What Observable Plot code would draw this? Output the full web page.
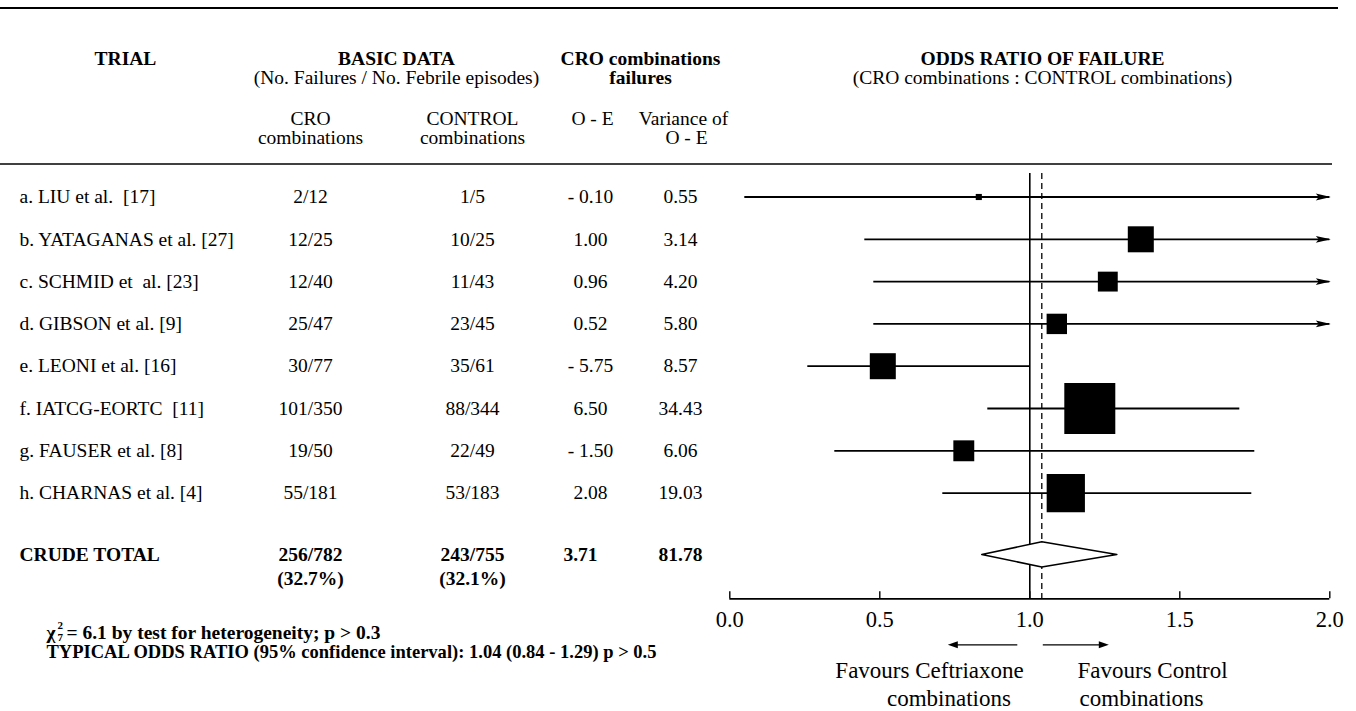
<!DOCTYPE html>
<html>
<head>
<meta charset="utf-8">
<script src="https://cdn.jsdelivr.net/npm/d3@7"></script>
<script src="https://cdn.jsdelivr.net/npm/@observablehq/plot@0.6"></script>
<style>
  html, body { margin: 0; padding: 0; background: #fff; }
  #chart svg { display: block; }
  #chart svg text { white-space: pre; }
</style>
</head>
<body>
<div id="chart"></div>
<script>
// ---------------- data ----------------
const trials = [
  "a. LIU et al.  [17]",
  "b. YATAGANAS et al. [27]",
  "c. SCHMID et  al. [23]",
  "d. GIBSON et al. [9]",
  "e. LEONI et al. [16]",
  "f. IATCG-EORTC  [11]",
  "g. FAUSER et al. [8]",
  "h. CHARNAS et al. [4]"
];
const croFailures = ["2/12", "12/25", "12/40", "25/47", "30/77", "101/350", "19/50", "55/181"];
const controlFailures = ["1/5", "10/25", "11/43", "23/45", "35/61", "88/344", "22/49", "53/183"];
const oMinusE = ["- 0.10", "1.00", "0.96", "0.52", "- 5.75", "6.50", "- 1.50", "2.08"];
const varianceOE = ["0.55", "3.14", "4.20", "5.80", "8.57", "34.43", "6.06", "19.03"];

const oddsRatio = [0.83, 1.37, 1.26, 1.09, 0.51, 1.20, 0.78, 1.12];
const ciLow = [0.05, 0.45, 0.48, 0.48, 0.26, 0.86, 0.35, 0.71];
const ciHigh = [2.0, 2.0, 2.0, 2.0, 1.0, 1.70, 1.75, 1.74];
const ciBeyondAxis = [true, true, true, true, false, false, false, false];
const boxWeight = [12, 51, 39, 40, 51, 100, 41, 75]; // relative box size, % of largest

const totalLabel = "CRUDE TOTAL";
const totalCro = "256/782\n(32.7%)";
const totalControl = "243/755\n(32.1%)";
const totalOE = "3.71";
const totalVariance = "81.78";
const typicalOR = 1.04, typicalLow = 0.84, typicalHigh = 1.29;

const xTicks = [0.0, 0.5, 1.0, 1.5, 2.0];

const headerMain = ["TRIAL", "BASIC DATA", "CRO combinations", "ODDS RATIO OF FAILURE"];
const headerSub = ["(No. Failures / No. Febrile episodes)", "failures", "(CRO combinations : CONTROL combinations)"];
const colHeads = [["CRO", "combinations"], ["CONTROL", "combinations"], ["O - E", ""], ["Variance of", "O - E"]];
const chiNote = "= 6.1 by test for heterogeneity; p > 0.3";
const typicalNote = "TYPICAL ODDS RATIO (95% confidence interval): 1.04 (0.84 - 1.29) p > 0.5";
const favours = ["Favours Ceftriaxone", "combinations", "Favours Control", "combinations"];

// ---------------- layout ----------------
const W = 1356, H = 711;
const row0 = 196.5, rowStep = 42.3;          // pixel of row a, row spacing
const py = p => (p - row0) / rowStep;         // pixel -> row units
const idx = trials.map((_, i) => i);
const totalRow = 8.45;
const axisRow = 9.5;
const serif = "'Liberation Serif', 'Times New Roman', Times, serif";
const fs = 19.5;

const colX = {trial: 19, cro: 310, control: 472, oe: 590, variance: 680};

const arrowHead = {
  draw(ctx) {
    ctx.moveTo(1, 0);
    ctx.lineTo(-14, -3.4);
    ctx.lineTo(-11, 0);
    ctx.lineTo(-14, 3.4);
    ctx.closePath();
  }
};
const smallHead = {
  draw(ctx) {
    ctx.moveTo(1, 0);
    ctx.lineTo(-9, -3.5);
    ctx.lineTo(-9, 3.5);
    ctx.closePath();
  }
};

const T = (data, o) => Plot.text(data, {fontFamily: serif, fontSize: fs, fill: "black", ...o});
const head = (str, cx, cy, o = {}) => T([str], {frameAnchor: "top-left", dx: cx, dy: cy, textAnchor: "middle", lineAnchor: "middle", ...o});

const diamondH = 12.6 / rowStep;
const diamond = [
  {x: typicalLow, y: totalRow},
  {x: typicalOR, y: totalRow - diamondH},
  {x: typicalHigh, y: totalRow},
  {x: typicalOR, y: totalRow + diamondH}
];

const plot = Plot.plot({
  width: W,
  height: H,
  margin: 0,
  style: {fontFamily: serif, background: "white", overflow: "visible"},
  x: {domain: [0, 2], range: [729.3, 1329.3], axis: null},
  y: {domain: [py(0), py(H)], range: [0, H], axis: null},
  r: {type: "linear", domain: [0, 100], range: [0, 51 / Math.sqrt(Math.PI)]},
  marks: [
    // rules
    Plot.ruleY([py(7.5)], {stroke: "black", strokeWidth: 2.2, insetRight: 18}),
    Plot.ruleY([py(163.5)], {stroke: "black", strokeWidth: 1.4, insetRight: 24}),

    // headers
    head(headerMain[0], 125, 58, {fontWeight: "bold"}),
    head(headerMain[1], 396, 58, {fontWeight: "bold"}),
    head(headerSub[0], 396, 77),
    head(headerMain[2], 640, 58, {fontWeight: "bold"}),
    head(headerSub[1], 640, 77, {fontWeight: "bold"}),
    head(headerMain[3], 1042, 58, {fontWeight: "bold"}),
    head(headerSub[2], 1042, 77),
    head(colHeads[0][0], colX.cro, 118), head(colHeads[0][1], colX.cro, 137),
    head(colHeads[1][0], colX.control, 118), head(colHeads[1][1], colX.control, 137),
    head(colHeads[2][0], colX.oe + 2, 118),
    head(colHeads[3][0], colX.variance + 3, 118), head(colHeads[3][1], colX.variance + 6, 137),

    // table rows
    T(idx, {y: i => i, text: i => trials[i], frameAnchor: "left", dx: colX.trial, textAnchor: "start"}),
    T(idx, {y: i => i, text: i => croFailures[i], frameAnchor: "left", dx: colX.cro, textAnchor: "middle"}),
    T(idx, {y: i => i, text: i => controlFailures[i], frameAnchor: "left", dx: colX.control, textAnchor: "middle"}),
    T(idx, {y: i => i, text: i => oMinusE[i], frameAnchor: "left", dx: colX.oe, textAnchor: "middle"}),
    T(idx, {y: i => i, text: i => varianceOE[i], frameAnchor: "left", dx: colX.variance, textAnchor: "middle"}),

    // total row (first line level with the diamond)
    T([totalLabel], {y: totalRow, frameAnchor: "left", dx: colX.trial, textAnchor: "start", fontWeight: "bold"}),
    T([totalCro], {y: totalRow, frameAnchor: "left", dx: colX.cro, textAnchor: "middle", lineAnchor: "top", dy: -11, fontWeight: "bold", lineHeight: 1.25}),
    T([totalControl], {y: totalRow, frameAnchor: "left", dx: colX.control, textAnchor: "middle", lineAnchor: "top", dy: -11, fontWeight: "bold", lineHeight: 1.25}),
    T([totalOE], {y: totalRow, frameAnchor: "left", dx: colX.oe - 10, textAnchor: "middle", fontWeight: "bold"}),
    T([totalVariance], {y: totalRow, frameAnchor: "left", dx: colX.variance, textAnchor: "middle", fontWeight: "bold"}),

    // reference lines
    Plot.ruleX([1], {y1: py(173), y2: axisRow, stroke: "black", strokeWidth: 1.6}),
    Plot.ruleX([typicalOR], {y1: py(173), y2: axisRow, stroke: "black", strokeWidth: 1.3, strokeDasharray: "6,4"}),

    // confidence intervals
    Plot.ruleY(idx, {y: i => i, x1: i => ciLow[i], x2: i => ciHigh[i], stroke: "black", strokeWidth: 1.8}),
    Plot.dot(idx.filter(i => ciBeyondAxis[i]), {x: i => ciHigh[i], y: i => i, symbol: arrowHead, fill: "black", stroke: "none", r: 5}),

    // boxes
    Plot.dot(idx, {x: i => oddsRatio[i], y: i => i, r: i => boxWeight[i], symbol: "square", fill: "black", stroke: "none"}),

    // typical odds ratio diamond
    Plot.line(diamond, {x: "x", y: "y", curve: "linear-closed", stroke: "black", strokeWidth: 1.6, fill: "white"}),

    // axis
    Plot.ruleY([axisRow], {x1: xTicks[0], x2: xTicks[xTicks.length - 1], stroke: "black", strokeWidth: 1.6}),
    Plot.ruleX(xTicks, {y1: axisRow, y2: axisRow - 7 / rowStep, stroke: "black", strokeWidth: 1.4}),
    T(xTicks, {x: d => d, y: axisRow, dy: 21, text: d => d.toFixed(1), fontSize: 22.5, textAnchor: "middle"}),

    // direction arrows and labels
    Plot.ruleY([axisRow], {x1: 0.96, x2: 0.74, dy: 46, stroke: "black", strokeWidth: 1.3}),
    Plot.dot([0.73], {x: d => d, y: axisRow, dy: 46, symbol: smallHead, rotate: 180, fill: "black", stroke: "none", r: 4}),
    Plot.ruleY([axisRow], {x1: 1.045, x2: 1.25, dy: 46, stroke: "black", strokeWidth: 1.3}),
    Plot.dot([1.26], {x: d => d, y: axisRow, dy: 46, symbol: smallHead, fill: "black", stroke: "none", r: 4}),
    T([favours[0]], {x: 0.98, y: axisRow, dy: 72, textAnchor: "end", fontSize: 23}),
    T([favours[1]], {x: 0.937, y: axisRow, dy: 100, textAnchor: "end", fontSize: 23}),
    T([favours[2]], {x: 1.159, y: axisRow, dy: 72, textAnchor: "start", fontSize: 23}),
    T([favours[3]], {x: 1.166, y: axisRow, dy: 100, textAnchor: "start", fontSize: 23}),

    // notes
    head("\u03C7", 46, 632, {textAnchor: "start", fontWeight: "bold"}),
    head("2", 57, 625, {textAnchor: "start", fontWeight: "bold", fontSize: 11}),
    head("7", 57, 637, {textAnchor: "start", fontWeight: "bold", fontSize: 11}),
    head(chiNote, 66, 632, {textAnchor: "start", fontWeight: "bold"}),
    head(typicalNote, 46, 651, {textAnchor: "start", fontWeight: "bold"})
  ]
});

// the long note is set a little narrower in the reference
d3.select(plot).selectAll("text").filter(function () { return this.textContent === typicalNote; })
  .attr("textLength", 610).attr("lengthAdjust", "spacingAndGlyphs");

document.getElementById("chart").appendChild(plot);
</script>
</body>
</html>
